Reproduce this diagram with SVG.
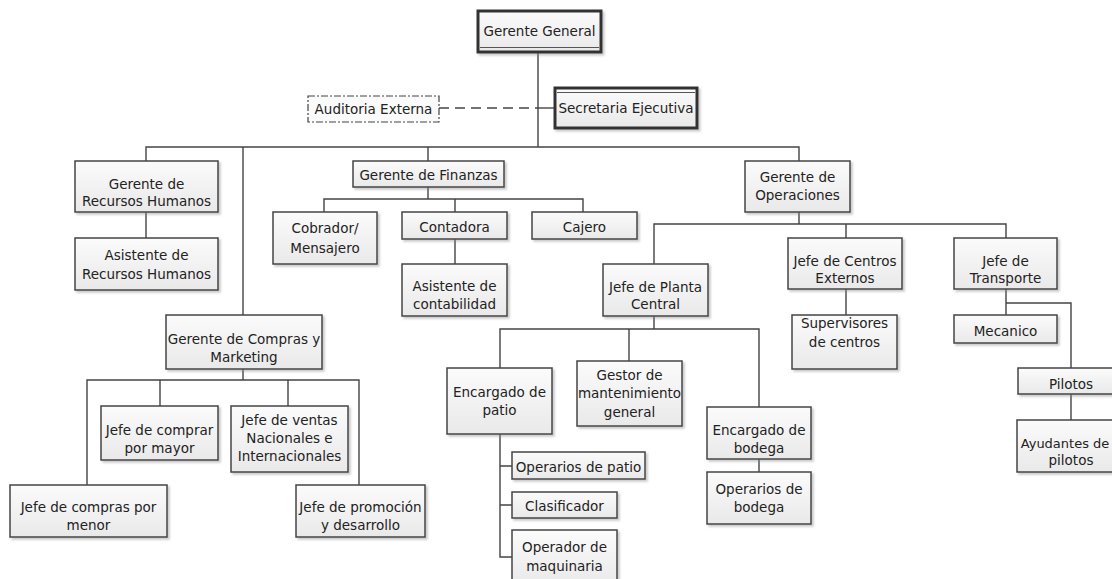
<svg xmlns="http://www.w3.org/2000/svg" width="1112" height="579" viewBox="0 0 1112 579">
  <defs>
    <linearGradient id="boxFill" x1="0" y1="0" x2="0" y2="1">
      <stop offset="0" stop-color="#fbfbfb"/>
      <stop offset="1" stop-color="#e9e9e9"/>
    </linearGradient>
    <filter id="shadow" x="-10%" y="-10%" width="130%" height="140%">
      <feDropShadow dx="2" dy="2" stdDeviation="1.2" flood-color="#888" flood-opacity="0.45"/>
    </filter>
  </defs>
  <style>
    .box { fill: url(#boxFill); stroke: #444; stroke-width: 1.5; filter: url(#shadow); }
    .bold { fill: url(#boxFill); stroke: #333; stroke-width: 3; filter: url(#shadow); }
    .inner { fill: none; stroke: #555; stroke-width: 1; }
    .ext { fill: #fafafa; stroke: #444; stroke-width: 1.2; stroke-dasharray: 7 2 2 2; }
    .lbl { font-family: "DejaVu Sans", Verdana, sans-serif; font-size: 13.5px; fill: #222; text-anchor: middle; }
    .conn { fill: none; stroke: #444; stroke-width: 1.4; }
    .dash { fill: none; stroke: #444; stroke-width: 1.4; stroke-dasharray: 10 6; }
  </style>
  <rect width="1112" height="579" fill="#ffffff"/>

  <!-- connectors -->
  <g id="connectors">
    <path class="conn" d="M538 52V147"/>
    <path class="dash" d="M439 108H538"/>
    <path class="conn" d="M538 108H555"/>
    <path class="conn" d="M146 161V147H799V161M243 147V315M428 147V161"/>
    <path class="conn" d="M146 212V238"/>
    <path class="conn" d="M428 187V199M324 212V199H583V212M455 199V212"/>
    <path class="conn" d="M455 239V264"/>
    <path class="conn" d="M243 369V380M87 485V380H359V485M160 380V406M288 380V406"/>
    <path class="conn" d="M799 212V224M654 264V224H1006V238M846 224V238"/>
    <path class="conn" d="M846 289V315"/>
    <path class="conn" d="M1006 289V315M1006 303H1071V368"/>
    <path class="conn" d="M1071 394V420"/>
    <path class="conn" d="M654 316V329M500 368V329H759V407M629 329V361"/>
    <path class="conn" d="M500 434V557H512M500 466H512M500 505H512"/>
    <path class="conn" d="M759 459V472"/>
  </g>

  <!-- top management -->
  <g id="gerente-general">
    <rect class="bold" x="478" y="11" width="123" height="41"/>
    <path class="inner" d="M480 47.5H599"/>
    <text class="lbl" x="539.5" y="36">Gerente General</text>
  </g>
  <g id="secretaria-ejecutiva">
    <rect class="bold" x="555" y="88" width="142" height="40"/>
    <path class="inner" d="M557 92.5H695"/>
    <text class="lbl" x="626" y="113">Secretaria Ejecutiva</text>
  </g>
  <g id="auditoria-externa">
    <rect class="ext" x="308" y="96" width="131" height="26"/>
    <text class="lbl" x="373.5" y="114">Auditoria Externa</text>
  </g>

  <!-- recursos humanos -->
  <g id="gerente-rrhh">
    <rect class="box" x="75" y="161" width="143" height="51"/>
    <text class="lbl" x="146.5" y="188.5">Gerente de</text>
    <text class="lbl" x="146.5" y="206">Recursos Humanos</text>
  </g>
  <g id="asistente-rrhh">
    <rect class="box" x="75" y="238" width="143" height="52"/>
    <text class="lbl" x="146.5" y="260">Asistente de</text>
    <text class="lbl" x="146.5" y="278.5">Recursos Humanos</text>
  </g>

  <!-- finanzas -->
  <g id="gerente-finanzas">
    <rect class="box" x="353" y="161" width="151" height="26"/>
    <text class="lbl" x="428.5" y="179.5">Gerente de Finanzas</text>
  </g>
  <g id="cobrador">
    <rect class="box" x="273" y="212" width="104" height="52"/>
    <text class="lbl" x="325" y="233">Cobrador/</text>
    <text class="lbl" x="325" y="252.5">Mensajero</text>
  </g>
  <g id="contadora">
    <rect class="box" x="402" y="212" width="105" height="27"/>
    <text class="lbl" x="454.5" y="232">Contadora</text>
  </g>
  <g id="cajero">
    <rect class="box" x="532" y="212" width="105" height="27"/>
    <text class="lbl" x="584.5" y="232">Cajero</text>
  </g>
  <g id="asistente-contabilidad">
    <rect class="box" x="402" y="264" width="105" height="52"/>
    <text class="lbl" x="454.5" y="290.5">Asistente de</text>
    <text class="lbl" x="454.5" y="309">contabilidad</text>
  </g>

  <!-- compras y marketing -->
  <g id="gerente-compras">
    <rect class="box" x="166" y="315" width="156" height="54"/>
    <text class="lbl" x="244" y="344">Gerente de Compras y</text>
    <text class="lbl" x="244" y="361.5">Marketing</text>
  </g>
  <g id="jefe-comprar-mayor">
    <rect class="box" x="101" y="406" width="117" height="54"/>
    <text class="lbl" x="159.5" y="435">Jefe de comprar</text>
    <text class="lbl" x="159.5" y="453">por mayor</text>
  </g>
  <g id="jefe-ventas">
    <rect class="box" x="231" y="406" width="117" height="66"/>
    <text class="lbl" x="289.5" y="425">Jefe de ventas</text>
    <text class="lbl" x="289.5" y="443">Nacionales e</text>
    <text class="lbl" x="289.5" y="460.5">Internacionales</text>
  </g>
  <g id="jefe-compras-menor">
    <rect class="box" x="10" y="485" width="157" height="52"/>
    <text class="lbl" x="88.5" y="512">Jefe de compras por</text>
    <text class="lbl" x="88.5" y="530">menor</text>
  </g>
  <g id="jefe-promocion">
    <rect class="box" x="296" y="485" width="129" height="52"/>
    <text class="lbl" x="360.5" y="512">Jefe de promoción</text>
    <text class="lbl" x="360.5" y="530">y desarrollo</text>
  </g>

  <!-- operaciones -->
  <g id="gerente-operaciones">
    <rect class="box" x="745" y="161" width="105" height="51"/>
    <text class="lbl" x="797.5" y="182">Gerente de</text>
    <text class="lbl" x="797.5" y="200">Operaciones</text>
  </g>
  <g id="jefe-planta">
    <rect class="box" x="603" y="264" width="105" height="52"/>
    <text class="lbl" x="655.5" y="291.5">Jefe de Planta</text>
    <text class="lbl" x="655.5" y="309">Central</text>
  </g>
  <g id="jefe-centros">
    <rect class="box" x="788" y="238" width="114" height="51"/>
    <text class="lbl" x="845" y="265.5">Jefe de Centros</text>
    <text class="lbl" x="845" y="282.5">Externos</text>
  </g>
  <g id="jefe-transporte">
    <rect class="box" x="954" y="238" width="103" height="51"/>
    <text class="lbl" x="1005.5" y="265.5">Jefe de</text>
    <text class="lbl" x="1005.5" y="282.5">Transporte</text>
  </g>
  <g id="supervisores">
    <rect class="box" x="792" y="315" width="105" height="54"/>
    <text class="lbl" x="844.5" y="328">Supervisores</text>
    <text class="lbl" x="844.5" y="346.5">de centros</text>
  </g>
  <g id="mecanico">
    <rect class="box" x="954" y="315" width="103" height="28"/>
    <text class="lbl" x="1005.5" y="335.5">Mecanico</text>
  </g>
  <g id="pilotos">
    <rect class="box" x="1018" y="368" width="106" height="26"/>
    <text class="lbl" x="1071" y="389">Pilotos</text>
  </g>
  <g id="ayudantes-pilotos">
    <rect class="box" x="1017" y="420" width="108" height="52"/>
    <text class="lbl" x="1065" y="447.5" style="font-size:13px">Ayudantes de</text>
    <text class="lbl" x="1071" y="465">pilotos</text>
  </g>

  <!-- planta central -->
  <g id="encargado-patio">
    <rect class="box" x="447" y="368" width="105" height="66"/>
    <text class="lbl" x="499.5" y="396.5">Encargado de</text>
    <text class="lbl" x="499.5" y="415">patio</text>
  </g>
  <g id="gestor-mantenimiento">
    <rect class="box" x="577" y="361" width="105" height="65"/>
    <text class="lbl" x="629.5" y="380">Gestor de</text>
    <text class="lbl" x="629.5" y="398">mantenimiento</text>
    <text class="lbl" x="629.5" y="416.5">general</text>
  </g>
  <g id="encargado-bodega">
    <rect class="box" x="707" y="407" width="104" height="52"/>
    <text class="lbl" x="759" y="435">Encargado de</text>
    <text class="lbl" x="759" y="453">bodega</text>
  </g>
  <g id="operarios-bodega">
    <rect class="box" x="707" y="472" width="104" height="52"/>
    <text class="lbl" x="759" y="494">Operarios de</text>
    <text class="lbl" x="759" y="511.5">bodega</text>
  </g>
  <g id="operarios-patio">
    <rect class="box" x="512" y="452" width="133" height="27"/>
    <text class="lbl" x="578.5" y="471.5">Operarios de patio</text>
  </g>
  <g id="clasificador">
    <rect class="box" x="512" y="492" width="105" height="26"/>
    <text class="lbl" x="564.5" y="511">Clasificador</text>
  </g>
  <g id="operador-maquinaria">
    <rect class="box" x="512" y="530" width="105" height="56"/>
    <text class="lbl" x="564.5" y="551.5">Operador de</text>
    <text class="lbl" x="564.5" y="571">maquinaria</text>
  </g>
</svg>
